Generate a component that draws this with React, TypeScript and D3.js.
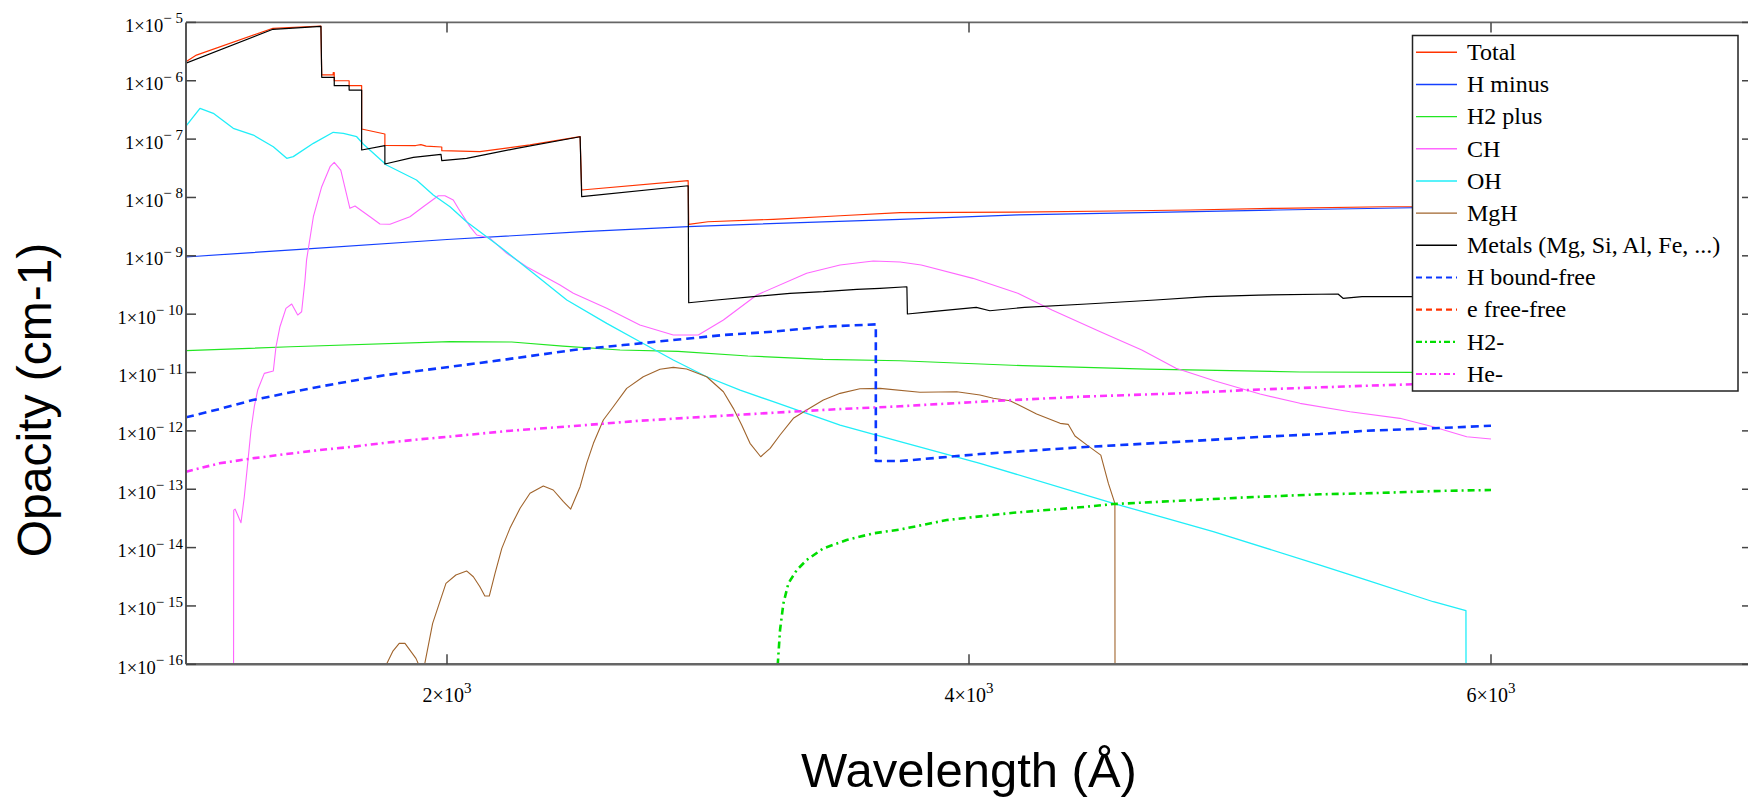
import React from "react";
import * as d3 from "d3";

// Each point: [wavelength in Å, log10 of opacity in cm^-1]
type Pt = [number, number];

const totalLog: Pt[] = [
  [1000, -5.673], [1040, -5.56], [1333, -5.101], [1517, -5.062],
  [1520, -5.9], [1564, -5.9], [1564, -5.862], [1568, -5.862], [1568, -6.0], [1625, -6.0],
  [1625, -6.085], [1673, -6.085], [1673, -6.827], [1762, -6.913],
  [1762, -7.106], [1880, -7.11], [1900, -7.095], [1920, -7.12], [1980, -7.135],
  [1980, -7.198], [2126, -7.216], [2318, -7.1], [2510, -6.959],
  [2516, -7.872], [2924, -7.713],
  [2926, -8.46], [3000, -8.416], [3250, -8.375], [3506, -8.313], [3736, -8.261],
  [4187, -8.25], [4556, -8.232], [4847, -8.215], [5183, -8.186], [5592, -8.159],
  [5701, -8.159], [6000, -8.14],
];

const hMinusLog: Pt[] = [
  [1000, -9.02], [1437, -8.889], [2000, -8.72], [2521, -8.587], [2923, -8.5],
  [3161, -8.46], [3736, -8.375], [4187, -8.3], [4715, -8.255], [5183, -8.215],
  [5701, -8.176], [6000, -8.15],
];

const h2PlusLog: Pt[] = [
  [1000, -10.626], [1400, -10.558], [2011, -10.472], [2248, -10.477], [2444, -10.546],
  [2663, -10.614], [2885, -10.637], [3153, -10.717], [3441, -10.774], [3736, -10.798],
  [4207, -10.883], [4682, -10.94], [5268, -10.991], [5701, -10.997], [6000, -11.0],
];

const chLog: Pt[] = [
  [1182, -17], [1183, -13.357], [1188, -13.34], [1210.7, -13.574], [1223.4, -13.128],
  [1236.4, -12.556], [1249, -11.985], [1261.7, -11.586], [1274.7, -11.3], [1300, -11.014],
  [1334.5, -10.974], [1344.8, -10.558], [1360, -10.215], [1383, -9.9], [1405, -9.826],
  [1428, -10.015], [1443, -9.958], [1456, -9.415], [1462, -9.07], [1488, -8.33],
  [1520, -7.816], [1552, -7.473], [1568, -7.398], [1593, -7.53], [1628, -8.186],
  [1647.5, -8.147], [1705, -8.33], [1743, -8.455], [1781.6, -8.46], [1858, -8.33],
  [1909, -8.159], [1966.7, -7.97], [1992, -7.97], [2024, -8.044], [2043, -8.186],
  [2088, -8.5], [2114, -8.643], [2165, -8.7], [2229, -8.957], [2305, -9.187],
  [2433, -9.5], [2484, -9.643], [2612, -9.9], [2739, -10.186], [2867, -10.357],
  [2963, -10.357], [3059, -10.1], [3187, -9.672], [3378, -9.3], [3506, -9.158],
  [3633, -9.089], [3736, -9.106], [3817, -9.158], [4015, -9.386], [4187, -9.643],
  [4318, -9.929], [4503, -10.3], [4662, -10.614], [4793, -10.928], [4943, -11.146],
  [5115, -11.369], [5268, -11.528], [5460, -11.672], [5651, -11.785], [5778, -11.929],
  [5907, -12.1], [6000, -12.14],
];

const ohLog: Pt[] = [
  [1000, -6.775], [1053.6, -6.472], [1104.6, -6.558], [1181, -6.815], [1258, -6.93],
  [1334.5, -7.13], [1386, -7.329], [1411, -7.3], [1488, -7.072], [1564, -6.883],
  [1603, -6.9], [1654, -6.959], [1679, -7.084], [1768, -7.444], [1883, -7.7],
  [1947.5, -7.958], [2011.5, -8.159], [2075, -8.416], [2203, -8.844], [2331, -9.3],
  [2459, -9.757], [2612, -10.157], [2739.5, -10.472], [2867, -10.786], [2995, -11.072],
  [3123, -11.3], [3250, -11.5], [3506, -11.9], [3736, -12.186], [4042, -12.556],
  [4553, -13.241], [4936, -13.728], [5345, -14.299], [5524, -14.556], [5779, -14.928],
  [5904, -15.082], [5904.5, -17],
];

const mghLog: Pt[] = [
  [1766, -16.02], [1792, -15.78], [1817, -15.641], [1839, -15.641], [1881, -15.898],
  [1894, -16.03], [1913, -16.03], [1945, -15.298], [1996, -14.613], [2034, -14.47],
  [2075, -14.4], [2101, -14.5], [2126, -14.671], [2145, -14.83], [2162, -14.83],
  [2184, -14.441], [2210, -14.013], [2241, -13.67], [2280, -13.327], [2318, -13.07],
  [2369, -12.945], [2407, -13.013], [2446, -13.214], [2474, -13.34], [2510, -12.957],
  [2535, -12.556], [2561, -12.213], [2599, -11.814], [2637, -11.586], [2688.5, -11.271],
  [2752, -11.072], [2816, -10.945], [2867, -10.911], [2918, -10.94], [2995, -11.072],
  [3059, -11.329], [3097, -11.614], [3129, -11.9], [3161, -12.213], [3202, -12.443],
  [3238, -12.3], [3276, -12.071], [3327, -11.785], [3378, -11.643], [3442, -11.471],
  [3506, -11.357], [3582, -11.278], [3659, -11.271], [3812, -11.339], [3953, -11.329],
  [4042, -11.386], [4093, -11.442], [4157, -11.483], [4208, -11.596], [4259, -11.711],
  [4349, -11.871], [4380, -11.888], [4406, -12.088], [4451, -12.24], [4505, -12.416],
  [4534, -12.9], [4559, -13.241], [4559.5, -17],
];

const metalsLog: Pt[] = [
  [1000, -5.7], [1333, -5.118], [1517, -5.067],
  [1520, -5.941], [1568, -5.941], [1568, -6.085], [1625, -6.085], [1625, -6.159], [1673, -6.159],
  [1673, -7.187], [1762, -7.113],
  [1762, -7.427], [1871, -7.312], [1977, -7.26], [1980, -7.37], [2075, -7.329],
  [2267, -7.158], [2510, -6.959],
  [2516, -7.987], [2924, -7.799],
  [2926, -9.804], [3033, -9.757], [3174, -9.7], [3314, -9.643], [3442, -9.615],
  [3570, -9.574], [3659, -9.557], [3762, -9.53],
  [3764, -9.997], [3857, -9.958], [4028, -9.883], [4080, -9.941], [4213, -9.883],
  [4451, -9.826], [4714.6, -9.757], [4912, -9.7], [5110, -9.672], [5414, -9.654],
  [5433, -9.728], [5506, -9.7], [5701, -9.7], [6000, -9.69],
];

const hBoundFreeLog: Pt[] = [
  [1000, -11.768], [1128, -11.626], [1255.6, -11.472], [1383, -11.356], [1511, -11.243],
  [1639, -11.14], [1766, -11.043], [1894, -10.97], [2034.5, -10.889], [2228.7, -10.774],
  [2484, -10.614], [2675.5, -10.529], [2867, -10.443], [3059, -10.357], [3250, -10.3],
  [3442, -10.215], [3643, -10.174], [3643, -12.517], [3736, -12.517], [4042, -12.397],
  [4425, -12.282], [4808, -12.186], [5128, -12.1], [5345, -12.054], [5524, -11.997],
  [5779, -11.956], [6000, -11.912],
];

// Electron free-free stays below the plotted range (under 1e-16)
const eFreeFreeLog: Pt[] = [];

const h2MinusLog: Pt[] = [
  [3267, -16.02], [3276, -15.413], [3289, -14.955], [3308, -14.613], [3340, -14.385],
  [3378, -14.213], [3442, -14.013], [3531, -13.871], [3633, -13.756], [3736, -13.69],
  [3915, -13.528], [4170, -13.403], [4425, -13.31], [4553, -13.254], [4808, -13.197],
  [5064, -13.139], [5345, -13.087], [5524, -13.07], [5830, -13.026], [6000, -13.014],
];

const heMinusLog: Pt[] = [
  [1000, -12.7], [1128, -12.556], [1255.6, -12.47], [1383, -12.397], [1511, -12.328],
  [1639, -12.272], [1766, -12.203], [1894, -12.145], [2007, -12.1], [2228.7, -12.003],
  [2484, -11.917], [2739.5, -11.826], [2995, -11.757], [3250, -11.689], [3506, -11.626],
  [3736, -11.579], [4042, -11.5], [4425, -11.415], [4808, -11.356], [5128, -11.288],
  [5345, -11.254], [5524, -11.226], [5701, -11.202], [6000, -11.16],
];

const yTickExponents = [-5, -6, -7, -8, -9, -10, -11, -12, -13, -14, -15, -16];
const xTickValues = [2000, 4000, 6000];

type Series = { name: string; data: Pt[]; color: string; width: number; dash?: string };

const series: Series[] = [
  { name: "Total", data: totalLog, color: "#ff3300", width: 1.2 },
  { name: "H minus", data: hMinusLog, color: "#1440ff", width: 1.2 },
  { name: "H2 plus", data: h2PlusLog, color: "#22e622", width: 1.2 },
  { name: "CH", data: chLog, color: "#ff66ff", width: 1.1 },
  { name: "OH", data: ohLog, color: "#20eef8", width: 1.3 },
  { name: "MgH", data: mghLog, color: "#a0642c", width: 1.1 },
  { name: "Metals (Mg, Si, Al, Fe, ...)", data: metalsLog, color: "#000000", width: 1.2 },
  { name: "H bound-free", data: hBoundFreeLog, color: "#0a36ff", width: 2.6, dash: "8,5" },
  { name: "e free-free", data: eFreeFreeLog, color: "#ff3300", width: 2.2, dash: "8,5" },
  { name: "H2-", data: h2MinusLog, color: "#00dd00", width: 2.6, dash: "7,4,2,4" },
  { name: "He-", data: heMinusLog, color: "#ff33ff", width: 2.6, dash: "7,4,2,4" },
];

const W = 1748;
const H = 800;
const left = 186;
const right = 1752;
const top = 22.4;
const bottom = 664.3;

export default function App() {
  const x = d3.scaleLinear().domain([1000, 7000]).range([left, right]);
  const y = d3.scaleLog().domain([1e-16, 1e-5]).range([bottom, top]);
  const line = d3
    .line<Pt>()
    .x((d) => x(d[0]))
    .y((d) => y(Math.pow(10, d[1])));

  const serif = "'Liberation Serif', 'Times New Roman', serif";
  const sans = "'Liberation Sans', Arial, sans-serif";
  const legendX = 1412.5;
  const legendY = 35.5;
  const rowGap = 32.17;

  return (
    <svg
      width={W}
      height={H}
      style={{ position: "absolute", left: 0, top: 0, background: "#fff" }}
    >
      <defs>
        <clipPath id="plotArea">
          <rect x={left} y={top} width={right - left} height={bottom - top} />
        </clipPath>
      </defs>
      <rect x={0} y={0} width={W} height={H} fill="#fff" />

      {/* curves */}
      <g clipPath="url(#plotArea)" fill="none" strokeLinejoin="round">
        {series.map((s) =>
          s.data.length ? (
            <path
              key={s.name}
              d={line(s.data) || ""}
              stroke={s.color}
              strokeWidth={s.width}
              strokeDasharray={s.dash}
            />
          ) : null
        )}
      </g>

      {/* frame */}
      <line x1={left} x2={right} y1={top} y2={top} stroke="#666" strokeWidth={1.6} />
      <line x1={left} x2={right} y1={bottom} y2={bottom} stroke="#666" strokeWidth={2.4} />
      <line x1={left} x2={left} y1={top} y2={bottom} stroke="#555" strokeWidth={2} />
      <line x1={right} x2={right} y1={top} y2={bottom} stroke="#555" strokeWidth={2} />

      {/* y ticks and labels */}
      {yTickExponents.map((e) => {
        const yy = y(Math.pow(10, e));
        return (
          <g key={e}>
            <line x1={left} x2={left + 10} y1={yy} y2={yy} stroke="#444" strokeWidth={1.5} />
            <line x1={right - 10} x2={right} y1={yy} y2={yy} stroke="#444" strokeWidth={1.5} />
            <text
              x={183}
              y={yy + 9.5}
              textAnchor="end"
              fontFamily={serif}
              fontSize={18.5}
              fill="#000"
            >
              1×10
              <tspan fontSize={15} dy={-8.5}>
                {"\u2212 " + Math.abs(e)}
              </tspan>
            </text>
          </g>
        );
      })}

      {/* x ticks and labels */}
      {xTickValues.map((v) => {
        const xx = x(v);
        return (
          <g key={v}>
            <line x1={xx} x2={xx} y1={bottom} y2={bottom - 10} stroke="#444" strokeWidth={1.5} />
            <line x1={xx} x2={xx} y1={top} y2={top + 10} stroke="#444" strokeWidth={1.5} />
            <text x={xx} y={702} textAnchor="middle" fontFamily={serif} fontSize={20} fill="#000">
              {`${v / 1000}×10`}
              <tspan fontSize={15} dy={-9}>
                3
              </tspan>
            </text>
          </g>
        );
      })}

      {/* axis titles */}
      <text
        x={(left + right) / 2}
        y={787}
        textAnchor="middle"
        fontFamily={sans}
        fontSize={49}
        fill="#000"
      >
        Wavelength (Å)
      </text>
      <text
        transform="translate(51,400) rotate(-90)"
        textAnchor="middle"
        fontFamily={sans}
        fontSize={48}
        fill="#000"
      >
        Opacity (cm-1)
      </text>

      {/* legend */}
      <g>
        <rect
          x={legendX}
          y={legendY}
          width={1738 - legendX}
          height={391 - legendY}
          fill="#fff"
          stroke="#222"
          strokeWidth={1.5}
        />
        {series.map((s, i) => {
          const ly = 52.3 + i * rowGap;
          return (
            <g key={s.name}>
              <line
                x1={1416}
                x2={1457}
                y1={ly}
                y2={ly}
                stroke={s.color}
                strokeWidth={s.dash ? 2.2 : 1.4}
                strokeDasharray={s.dash ? (s.dash.split(",").length > 2 ? "6,3,2,3" : "6,4") : undefined}
              />
              <text x={1467} y={ly + 7.7} fontFamily={serif} fontSize={24} fill="#000">
                {s.name}
              </text>
            </g>
          );
        })}
      </g>
    </svg>
  );
}
